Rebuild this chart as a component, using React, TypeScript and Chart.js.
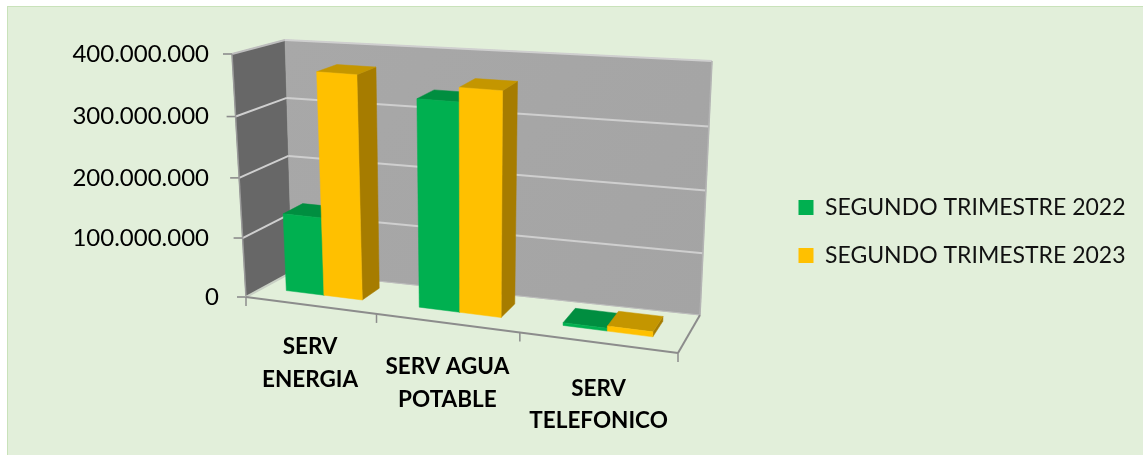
import React, { useEffect, useRef } from "react";
import { Chart, registerables } from "chart.js";

Chart.register(...registerables);

const categories = [["SERV", "ENERGIA"], ["SERV AGUA", "POTABLE"], ["SERV", "TELEFONICO"]];
const seriesNames = ["SEGUNDO TRIMESTRE 2022", "SEGUNDO TRIMESTRE 2023"];
const values2022 = [130000000, 339000000, 4500000];
const values2023 = [370000000, 362000000, 8000000];

const FONT = "Lato, 'Open Sans', sans-serif";

// Colours per series: front, top, side
const shades = [
  { front: "#00B050", top: "#008E40", side: "#007A38" },
  { front: "#FFC000", top: "#C49600", side: "#A67C00" },
];

// Projection of the unit box: u along categories, v up the value axis, w into the depth.
const box = {
  fb: [246, 297], fbr: [678, 353], ft: [232, 54], ftr: [689.5, 87],
  bb: [292, 272], bbr: [700, 315], bt: [285, 40], btr: [712, 61],
};
const PERSPECTIVE_K = 1.155;
const VALUE_K = 1.04;
const BAR_W_FRONT = 0.39;
const BAR_W_BACK = 0.81;

const lerp = (a: number, b: number, t: number) => a + (b - a) * t;
const warpK = (t: number, k: number) => t / (t + k * (1 - t));
const warp = (u: number) => warpK(u, PERSPECTIVE_K);
function P(uRaw: number, vRaw: number, w: number): [number, number] {
  const u = warp(uRaw);
  // The value scale already carries the front-left foreshortening; it fades towards the far corner.
  const v = warpK(vRaw, 1 - (VALUE_K - 1) * w * (1 - u));
  const out: number[] = [];
  for (let i = 0; i < 2; i++) {
    const fBottom = lerp(box.fb[i], box.fbr[i], u);
    const fTop = lerp(box.ft[i], box.ftr[i], u);
    const bBottom = lerp(box.bb[i], box.bbr[i], u);
    const bTop = lerp(box.bt[i], box.btr[i], u);
    out.push(lerp(lerp(fBottom, fTop, v), lerp(bBottom, bTop, v), w));
  }
  return [out[0], out[1]];
}
// Bars stand a little lower on the floor towards the near end and lean left at the far end.
function B(u: number, v: number, w: number): [number, number] {
  const p = P(u, v, w);
  const t = warp(u);
  return [p[0] - 4.5 * Math.pow(1 - t, 4), p[1] + 3 * t];
}

function poly(ctx: CanvasRenderingContext2D, pts: [number, number][], fill: any) {
  ctx.beginPath();
  pts.forEach((p, i) => (i ? ctx.lineTo(p[0], p[1]) : ctx.moveTo(p[0], p[1])));
  ctx.closePath();
  ctx.fillStyle = fill;
  ctx.fill();
  ctx.strokeStyle = fill;
  ctx.lineWidth = 0.5;
  ctx.stroke();
}
function line(ctx: CanvasRenderingContext2D, a: [number, number], b: [number, number], color: string, width: number) {
  ctx.beginPath();
  ctx.moveTo(a[0], a[1]);
  ctx.lineTo(b[0], b[1]);
  ctx.strokeStyle = color;
  ctx.lineWidth = width;
  ctx.stroke();
}

const scene3d = {
  id: "scene3d",
  afterLayout(chart: any) {
    const lg = chart.legend;
    if (!lg) return;
    const dy = 231.5 - (lg.top + lg.bottom) / 2;
    lg.top += dy;
    lg.bottom += dy;
    const w = lg.width;
    lg.left = 773.5;
    lg.right = lg.left + w;
  },
  beforeDatasetsDraw(chart: any) {
    const ctx: CanvasRenderingContext2D = chart.ctx;
    const area = chart.chartArea;
    const yScale = chart.scales.y;
    const xScale = chart.scales.x;
    const V = (px: number) => (area.bottom - px) / (area.bottom - area.top);
    const U = (px: number) => (px - area.left) / (area.right - area.left);
    ctx.save();
    ctx.lineCap = "butt";

    // walls
    poly(ctx, [P(0, 0, 0), P(0, 1, 0), P(0, 1, 1), P(0, 0, 1)], "#676767");
    const grad = ctx.createLinearGradient(285, 40, 712, 315);
    grad.addColorStop(0, "#A8A8A8");
    grad.addColorStop(1, "#A4A4A4");
    poly(ctx, [P(0, 0, 1), P(0, 1, 1), P(1, 1, 1), P(1, 0, 1)], grad);

    // grid lines + value ticks
    yScale.ticks.forEach((t: any) => {
      const v = V(yScale.getPixelForValue(t.value));
      if (v > 0.001) {
        line(ctx, P(0, v, 0), P(0, v, 1), v > 0.99 ? "#BDBDBD" : "#CFCFCF", 2);
        line(ctx, P(0, v, 1), P(1, v, 1), "#CFCFCF", 2);
      }
      const a = P(0, v, 0);
      line(ctx, [a[0] - 9, a[1]], a, "#8C8C8C", 1.6);
    });
    line(ctx, P(1, 0, 1), P(1, 1, 1), "#B4B4B4", 1.5);
    line(ctx, P(0, 0, 1), P(1, 0, 1), "#BDBDBD", 1);
    line(ctx, P(0, 0, 0), P(0, 1, 0), "#9A9A9A", 1.5);

    // floor outline + category ticks
    line(ctx, P(0, 0, 1), P(0, 0, 0), "#C8CFC4", 2);
    line(ctx, P(0, 0, 0), P(1, 0, 0), "#8C8C8C", 2);
    line(ctx, P(1, 0, 0), P(1, 0, 1), "#8C8C8C", 2);
    const n = categories.length;
    for (let i = 0; i <= n; i++) {
      const a = P(i / n, 0, 0);
      line(ctx, a, [a[0], a[1] + 9], "#8C8C8C", 1.5);
    }

    // bars, left to right so nearer faces overlap
    const items: { el: any; ds: number }[] = [];
    chart.data.datasets.forEach((_: any, ds: number) => {
      chart.getDatasetMeta(ds).data.forEach((el: any) => items.push({ el, ds }));
    });
    items.sort((a, b) => a.el.x - b.el.x);
    items.forEach(({ el, ds }) => {
      const u0 = U(el.x - el.width / 2);
      const u1 = U(el.x + el.width / 2);
      const v0 = V(el.base);
      const v1 = V(el.y);
      const s = shades[ds];
      const wf = BAR_W_FRONT;
      const wb = BAR_W_BACK;
      poly(ctx, [B(u1, v0, wf), B(u1, v1, wf), B(u1, v1, wb), B(u1, v0, wb)], s.side);
      poly(ctx, [B(u0, v1, wf), B(u0, v1, wb), B(u1, v1, wb), B(u1, v1, wf)], s.top);
      poly(ctx, [B(u0, v0, wf), B(u0, v1, wf), B(u1, v1, wf), B(u1, v0, wf)], s.front);
    });

    // category labels follow the slanted floor edge
    ctx.fillStyle = "#000000";
    ctx.font = `bold 22.5px ${FONT}`;
    ctx.textAlign = "center";
    ctx.textBaseline = "middle";
    categories.forEach((lines, i) => {
      const u = U(xScale.getPixelForValue(i));
      const c = P(u, 0, 0);
      lines.forEach((t, j) => ctx.fillText(t, c[0] + 2 * warp(u), c[1] + 41 + 6 * warp(u) + j * 32.5));
    });
    ctx.restore();
    return false;
  },
};

export default function App() {
  const ref = useRef<HTMLCanvasElement | null>(null);
  useEffect(() => {
    const chart = new Chart(ref.current as HTMLCanvasElement, {
      type: "bar",
      data: {
        labels: categories as any,
        datasets: [
          { label: seriesNames[0], data: values2022, backgroundColor: shades[0].front, borderWidth: 0 },
          { label: seriesNames[1], data: values2023, backgroundColor: shades[1].front, borderWidth: 0 },
        ],
      },
      options: {
        responsive: false,
        animation: false,
        devicePixelRatio: 1,
        layout: { padding: { top: 54, bottom: 158, left: 0, right: 18 } },
        datasets: { bar: { categoryPercentage: 0.58, barPercentage: 1 } },
        plugins: {
          tooltip: { enabled: false },
          title: { display: false },
          legend: {
            display: true,
            position: "right",
            maxWidth: 420,
            labels: {
              boxWidth: 15,
              boxHeight: 15,
              padding: 25,
              color: "#111111",
              font: { family: FONT, size: 23 },
            },
          },
        },
        scales: {
          x: {
            ticks: { display: false },
            grid: { display: false },
            border: { display: false },
            afterFit: (s: any) => { s.height = 0; },
          },
          y: {
            min: 0,
            max: 400000000,
            afterDataLimits: (s: any) => {
              // The value axis is slightly foreshortened along the slanted front edge.
              s.getPixelForValue = (val: number) => {
                const t = (val - s.min) / (s.max - s.min);
                return s.bottom - (s.bottom - s.top) * warpK(t, VALUE_K);
              };
            },
            afterFit: (s: any) => {
              s.width = 246;
              if (!s.__labelsWrapped) {
                s.__labelsWrapped = true;
                const orig = s._computeLabelItems.bind(s);
                s._computeLabelItems = (a: any) => {
                  const its = orig(a);
                  its.forEach((it: any) => {
                    if (it.label === "0") it.options.translation[0] += 10;
                  });
                  return its;
                };
              }
            },
            grid: { display: false, drawTicks: false },
            border: { display: false },
            ticks: {
              stepSize: 100000000,
              padding: 37,
              color: "#000000",
              font: { family: FONT, size: 24 },
              callback: (v: any) => Number(v).toLocaleString("de-DE"),
            },
          },
        },
      } as any,
      plugins: [scene3d as any],
    });
    return () => chart.destroy();
  }, []);
  return (
    <div style={{ position: "fixed", left: 0, top: 0, width: 1143, height: 455, background: "#FFFFFF", overflow: "hidden" }}>
      <div style={{ position: "absolute", left: 7, top: 6, right: 0, bottom: 0, background: "#E2EFDA", borderLeft: "1px solid #C9E2BA", borderTop: "1px solid #C9E2BA" }} />
      <canvas ref={ref} width={1143} height={455} style={{ position: "absolute", left: 0, top: 0, display: "block" }} />
    </div>
  );
}
